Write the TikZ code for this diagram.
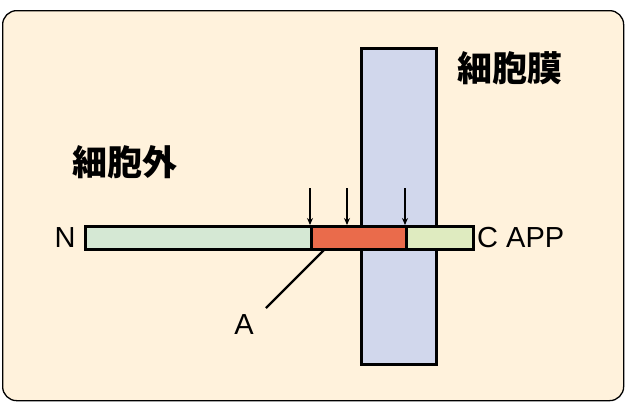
\documentclass[tikz,border=0pt]{standalone}
\usepackage{fontspec}
\setmainfont{Liberation Sans}
\newfontfamily\cjk{Noto Sans CJK JP}
\usetikzlibrary{arrows.meta}
\definecolor{bgc}{HTML}{FFF2DC}
\definecolor{memc}{HTML}{D1D7EC}
\definecolor{ngreen}{HTML}{D5E8D4}
\definecolor{redc}{HTML}{EA6B4B}
\definecolor{cgreen}{HTML}{DFEBC0}
\begin{document}
\begin{tikzpicture}[x=1pt,y=-1pt,
  seg/.style={draw=black,line width=2.8pt},
  lbl/.style={font=\fontsize{29}{32}\selectfont,inner sep=0pt},
  jlbl/.style={font=\cjk\bfseries\fontsize{35}{38}\selectfont,inner sep=0pt},
  cut/.style={line width=1.8pt,-{Stealth[length=7pt,width=6pt]}}]
\useasboundingbox (0,0) rectangle (633,405);
\node[draw=black,line width=1.3pt,fill=bgc,rounded corners=14pt,minimum width=621pt,minimum height=390pt,anchor=north west,inner sep=0pt] (frame) at (2,10) {};
\node[seg,fill=memc,minimum width=75pt,minimum height=316pt,anchor=north west,inner sep=0pt] (mem) at (360,47) {};
\node[seg,fill=ngreen,minimum width=226pt,minimum height=23pt,anchor=north west,inner sep=0pt] (nseg) at (84,225) {};
\node[seg,fill=redc,minimum width=95pt,minimum height=23pt,anchor=north west,inner sep=0pt] (aseg) at (310,225) {};
\node[seg,fill=cgreen,minimum width=67pt,minimum height=23pt,anchor=north west,inner sep=0pt] (cseg) at (405,225) {};
\coordinate (t1) at (310,188);
\coordinate (t2) at (347,188);
\coordinate (t3) at (405,188);
\draw[cut] (t1) -- (t1 |- aseg.north);
\draw[cut] (t2) -- (t2 |- aseg.north);
\draw[cut] (t3) -- (t3 |- aseg.north);
\node[lbl] (N) at (65,238) {N};
\node[lbl,anchor=west] (C) at (477,238) {C APP};
\node[lbl] (A) at (244,325) {A};
\draw[line width=2.2pt] (325,249) -- (266,308);
\node[jlbl] (memlbl) at (510,68) {細胞膜};
\node[jlbl] (outlbl) at (125,162) {細胞外};
\end{tikzpicture}
\end{document}
